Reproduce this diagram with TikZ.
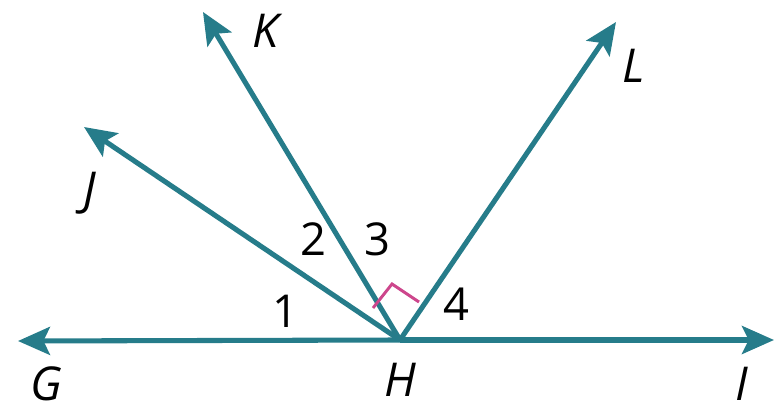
\documentclass[tikz,border=0pt]{standalone}
\usepackage{fontspec}
\setmainfont{Open Sans}
\usetikzlibrary{arrows.meta}
\definecolor{raycol}{RGB}{38,124,138}
\definecolor{anglecol}{RGB}{205,70,140}
\begin{document}
\begin{tikzpicture}[x=0.75pt,y=-0.75pt,
  rayline/.style={draw=raycol,line width=3.8pt,-{Stealth[length=24pt,width=21pt,inset=5pt]}},
  rightmark/.style={draw=anglecol,line width=2.2pt},
  lbl/.style={font=\fontsize{35}{38}\selectfont\itshape,text=black,inner sep=0pt},
  num/.style={font=\fontsize{34}{38}\selectfont,text=black,inner sep=0pt}]
\useasboundingbox (0,0) rectangle (776,414);
\coordinate (H) at (400,340);
\coordinate (G) at (18,341);
\coordinate (I) at (774,340);
\coordinate (K) at (203,12);
\coordinate (L) at (616,22);
\coordinate (J) at (84,127);
\draw[rayline] (H) -- (G);
\draw[rayline] (H) -- (I);
\draw[rayline] (H) -- (K);
\draw[rayline] (H) -- (L);
\draw[rayline] (H) -- (J);
\coordinate (m1) at (373,308);
\coordinate (m2) at (392,284);
\coordinate (m3) at (419,302);
\draw[rightmark] (m1) -- (m2) -- (m3);
\node[lbl] (lK) at (266,31) {K};
\node[lbl] (lL) at (634,66) {L};
\node[lbl] (lJ) at (90,193) {J};
\node[lbl] (lG) at (46,384) {G};
\node[lbl] (lH) at (400,380) {H};
\node[lbl] (lI) at (742,384) {I};
\node[num] (n1) at (285,311) {1};
\node[num] (n2) at (313,239) {2};
\node[num] (n3) at (377,239) {3};
\node[num] (n4) at (456,304) {4};
\end{tikzpicture}
\end{document}
